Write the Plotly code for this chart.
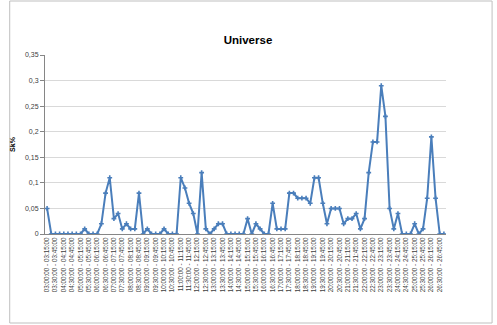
import plotly.graph_objects as go

def fmt(m):
    h, mm = divmod(m, 60)
    return f"{h:02d}:{mm:02d}:00"

starts = [180 + 15 * i for i in range(96)]
categories = [f"{fmt(s)} - {fmt(s + 15)}" for s in starts]

values = [
    0.05, 0, 0, 0, 0, 0, 0, 0, 0, 0.01,
    0, 0, 0, 0.02, 0.08, 0.11, 0.03, 0.04, 0.01, 0.02,
    0.01, 0.01, 0.08, 0, 0.01, 0, 0, 0, 0.01, 0,
    0, 0, 0.11, 0.09, 0.06, 0.04, 0, 0.12, 0.01, 0,
    0.01, 0.02, 0.02, 0, 0, 0, 0, 0, 0.03, 0,
    0.02, 0.01, 0, 0, 0.06, 0.01, 0.01, 0.01, 0.08, 0.08,
    0.07, 0.07, 0.07, 0.06, 0.11, 0.11, 0.06, 0.02, 0.05, 0.05,
    0.05, 0.02, 0.03, 0.03, 0.04, 0.01, 0.03, 0.12, 0.18, 0.18,
    0.29, 0.23, 0.05, 0.01, 0.04, 0, 0, 0, 0.02, 0,
    0.01, 0.07, 0.19, 0.07, 0, 0,
]

tick_labels = categories[::2]

title_text = "Universe"
y_title = "Sk%"

L, R, T, B = 37, 51, 55, 91
W, H = 497, 325
pw, ph = W - L - R, H - T - B

fig = go.Figure()
fig.add_trace(go.Scatter(
    x=categories, y=values, mode="lines+markers",
    line=dict(color="#4a7ebb", width=2),
    marker=dict(symbol="cross", size=4, color="#4a7ebb"),
    showlegend=False,
))

fig.update_layout(
    width=W, height=H,
    margin=dict(l=L, r=R, t=T, b=B),
    paper_bgcolor="white", plot_bgcolor="white",
    separators=", ",
    title=dict(text=title_text, x=248 / W, xanchor="center",
               y=1 - 40 / H, yanchor="middle",
               font=dict(family="Liberation Sans", size=11.5, color="black", weight="bold")),
    font=dict(family="Liberation Sans", color="#404040"),
    xaxis=dict(
        type="category", range=[-0.5, 95.5],
        tickmode="array", tickvals=tick_labels, ticktext=tick_labels,
        tickangle=-90, tickfont=dict(size=6.3, color="#404040"),
        showgrid=False, showline=True, linecolor="#868686", linewidth=1,
        ticks="", zeroline=False,
    ),
    yaxis=dict(
        range=[0, 0.35], dtick=0.05, tick0=0,
        showgrid=True, gridcolor="#d9d9d9", gridwidth=1,
        showline=True, linecolor="#868686", linewidth=1,
        ticks="outside", ticklen=4, tickcolor="#868686",
        tickfont=dict(size=7, color="#404040"),
        zeroline=False,
        title=dict(text=y_title, font=dict(size=7, color="black", weight="bold"), standoff=8),
    ),
    shapes=[dict(
        type="rect", xref="paper", yref="paper",
        x0=(1 - L) / pw, x1=(493 - L) / pw,
        y0=(H - B - 323) / ph, y1=(H - B - 1) / ph,
        line=dict(color="#bfbfbf", width=1), fillcolor="rgba(0,0,0,0)", layer="below",
    )],
)

fig.write_html("out.html")
